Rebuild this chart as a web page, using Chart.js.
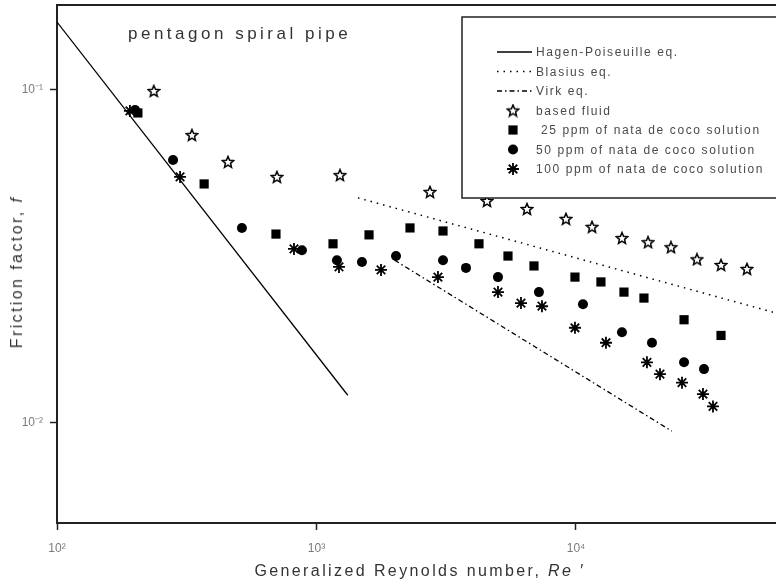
<!DOCTYPE html>
<html>
<head>
<meta charset='utf-8' />
<title>Friction factor - pentagon spiral pipe</title>
<script src="https://cdn.jsdelivr.net/npm/chart.js@4"></script>
<style>
body { margin:0; padding:0; background:#ffffff; }
#wrap {
  position: relative;
  width: 776px;
  height: 584px;
}
#chart { position: absolute; left: 0; top: 0; }
.lbl {
  position: absolute;
  font-family: 'Liberation Sans', Arial, sans-serif;
  color: #333333;
  white-space: nowrap;
}
#ptitle {
  left: 128px;
  top: 24px;
  font-size: 17px;
  letter-spacing: 3.5px;
}
#xtitle {
  left: 420px;
  top: 562px;
  font-size: 16px;
  letter-spacing: 2.4px;
  transform: translateX(-50%);
}
#ytitle {
  left: 17px;
  top: 272px;
  font-size: 16px;
  letter-spacing: 2.4px;
  transform: translate(-50%, -50%) rotate(-90deg);
}
</style>
</head>
<body>
<div id="wrap">
  <canvas id="chart" width="776" height="584"></canvas>
  <div id="ptitle" class="lbl">pentagon spiral pipe</div>
  <div id="xtitle" class="lbl">Generalized Reynolds number, <i>Re</i> ′</div>
  <div id="ytitle" class="lbl">Friction factor, <i>f</i></div>
</div>

<script>

/*************************************************/
/* data                   */
/*************************************************/

// correlation lines : end points
const reHP = [100, 1320];
const fHP = [0.16, 0.0121];
const reBlasius = [1445, 57400];
const fBlasius = [0.0474, 0.0215];
const reVirk = [2000, 23400];
const fVirk = [0.0308, 0.00944];

// based fluid
const reBase = [236, 331, 456, 704, 1232, 2738, 4540, 6474, 9150, 11530, 15040, 18950, 23230, 29260, 36220, 45600];
const fBase = [0.0993, 0.0732, 0.0608, 0.0548, 0.0555, 0.0494, 0.0464, 0.0439, 0.0410, 0.0388, 0.0359, 0.0349, 0.0337, 0.0310, 0.0298, 0.0290];

// 25 ppm
const re25 = [205, 369, 698, 1158, 1594, 2293, 3073, 4228, 5470, 6889, 9911, 12480, 15310, 18280, 26090, 36220];
const f25 = [0.0853, 0.0522, 0.0369, 0.0345, 0.0367, 0.0385, 0.0377, 0.0345, 0.0317, 0.0296, 0.0274, 0.0265, 0.0247, 0.0237, 0.0204, 0.0183];

// 50 ppm
const re50 = [200, 280, 516, 879, 1199, 1497, 2025, 3073, 3768, 5005, 7200, 10640, 15040, 19630, 26090, 31140];
const f50 = [0.0871, 0.0616, 0.0385, 0.0330, 0.0308, 0.0304, 0.0317, 0.0308, 0.0292, 0.0274, 0.0247, 0.0227, 0.0187, 0.0174, 0.0152, 0.0145];

// 100 ppm
const re100 = [191, 298, 819, 1221, 1773, 2938, 5005, 6139, 7396, 9911, 13050, 18770, 21070, 25620, 30860, 33730];
const f100 = [0.0865, 0.0548, 0.0333, 0.0294, 0.0288, 0.0274, 0.0247, 0.0229, 0.0224, 0.0193, 0.0174, 0.0152, 0.0140, 0.0132, 0.0122, 0.0112];

const legendLabels = [
  'Hagen-Poiseuille eq.',
  'Blasius eq.',
  'Virk eq.',
  'based fluid',
  ' 25 ppm of nata de coco solution',
  '50 ppm of nata de coco solution',
  '100 ppm of nata de coco solution'
];

// axis ticks
const xMajor = [100, 1000, 10000];
const xMinor = [200, 300, 400, 500, 600, 700, 800, 900,
                2000, 3000, 4000, 5000, 6000, 7000, 8000, 9000,
                20000, 30000, 40000, 50000];
const yMajor = [0.01, 0.1];
const yMinor = [0.006, 0.007, 0.008, 0.009,
                0.02, 0.03, 0.04, 0.05, 0.06, 0.07, 0.08, 0.09];
const xTickText = { 100: '10²', 1000: '10³', 10000: '10⁴' };
const yTickText = { 0.1: '10⁻¹', 0.01: '10⁻²' };

const xMin = 100, xMax = 59000;
const yMin = 0.005, yMax = 0.18;

/*************************************************/
/* styles                                        */
/*************************************************/

const FONT = "'Liberation Sans', Arial, sans-serif";
const INK = '#000000';
const AXIS = '#222222';

// open five point star used for the based fluid
const starImg = document.createElement('canvas');
starImg.width = 14;
starImg.height = 14;
(() => {
  const c = starImg.getContext('2d');
  c.beginPath();
  for (let k = 0; k < 10; k++) {
    const r = (k % 2 === 0) ? 6 : 2.7;
    const a = -Math.PI / 2 + k * Math.PI / 5;
    const px = 7 + r * Math.cos(a);
    const py = 7.5 + r * Math.sin(a);
    if (k === 0) c.moveTo(px, py); else c.lineTo(px, py);
  }
  c.closePath();
  c.lineWidth = 1.5;
  c.strokeStyle = INK;
  c.stroke();
})();

const toPts = (xs, ys) => xs.map((x, i) => ({ x: x, y: ys[i] }));

// fixed axis box sizes, no extra label padding
const fixHeight = h => s => { s.height = h; s.paddingLeft = 0; s.paddingRight = 0; };
const fixWidth = w => s => { s.width = w; s.paddingTop = 0; s.paddingBottom = 0; };

/*************************************************/
/* plugins                                       */
/*************************************************/

// top frame line
const frameTop = {
  id: 'frameTop',
  afterDraw(chart) {
    const a = chart.chartArea;
    const ctx = chart.ctx;
    ctx.save();
    ctx.strokeStyle = AXIS;
    ctx.lineWidth = 2;
    ctx.beginPath();
    ctx.moveTo(a.left - 1, a.top);
    ctx.lineTo(a.right + 2, a.top);
    ctx.stroke();
    ctx.restore();
  }
};

// boxed legend inside the plot
const legendBox = {
  id: 'legendBox',
  afterDraw(chart) {
    const a = chart.chartArea;
    const ctx = chart.ctx;
    const left = a.left + 405;
    const top = a.top + 12;
    const bottom = a.top + 193;
    const right = a.right + 10;
    ctx.save();
    ctx.fillStyle = '#ffffff';
    ctx.fillRect(left, top, right - left, bottom - top);
    ctx.strokeStyle = AXIS;
    ctx.lineWidth = 1.5;
    ctx.strokeRect(left, top, right - left, bottom - top);

    chart.data.datasets.forEach((ds, i) => {
      const y = top + 35 + i * 19.5;
      ctx.save();
      if (ds.showLine) {
        ctx.strokeStyle = ds.borderColor;
        ctx.lineWidth = ds.borderWidth;
        ctx.setLineDash(ds.borderDash || []);
        ctx.beginPath();
        ctx.moveTo(left + 35, y);
        ctx.lineTo(left + 70, y);
        ctx.stroke();
      } else {
        ctx.fillStyle = ds.backgroundColor;
        ctx.strokeStyle = ds.borderColor;
        ctx.lineWidth = ds.borderWidth;
        Chart.helpers.drawPoint(ctx, {
          pointStyle: ds.pointStyle,
          radius: ds.pointRadius,
          rotation: 0,
          borderWidth: ds.borderWidth
        }, left + 51, y);
      }
      ctx.restore();
      ctx.fillStyle = '#4a4a4a';
      ctx.font = '12px ' + FONT;
      ctx.letterSpacing = '1.6px';
      ctx.textAlign = 'left';
      ctx.textBaseline = 'middle';
      ctx.fillText(ds.label, left + 74, y + 1);
    });
    ctx.restore();
  }
};

/*************************************************/
/* chart                                         */
/*************************************************/

const tickFont = { family: FONT, size: 12 };

const chart = new Chart(document.getElementById('chart'), {
  type: 'scatter',
  data: {
    datasets: [
      {
        label: legendLabels[0],
        data: toPts(reHP, fHP),
        showLine: true,
        borderColor: INK,
        borderWidth: 1.3,
        pointRadius: 0
      },
      {
        label: legendLabels[1],
        data: toPts(reBlasius, fBlasius),
        showLine: true,
        borderColor: INK,
        borderWidth: 1.5,
        borderDash: [1.5, 5],
        pointRadius: 0
      },
      {
        label: legendLabels[2],
        data: toPts(reVirk, fVirk),
        showLine: true,
        borderColor: INK,
        borderWidth: 1.3,
        borderDash: [5, 3, 1.5, 3],
        pointRadius: 0
      },
      {
        label: legendLabels[3],
        data: toPts(reBase, fBase),
        pointStyle: starImg,
        pointRadius: 6,
        backgroundColor: INK,
        borderColor: INK,
        borderWidth: 1.5
      },
      {
        label: legendLabels[4],
        data: toPts(re25, f25),
        pointStyle: 'rect',
        pointRadius: 6.5,
        backgroundColor: INK,
        borderColor: INK,
        borderWidth: 0
      },
      {
        label: legendLabels[5],
        data: toPts(re50, f50),
        pointStyle: 'circle',
        pointRadius: 5,
        backgroundColor: INK,
        borderColor: INK,
        borderWidth: 0
      },
      {
        label: legendLabels[6],
        data: toPts(re100, f100),
        pointStyle: 'star',
        pointRadius: 6,
        backgroundColor: INK,
        borderColor: INK,
        borderWidth: 1.8
      }
    ]
  },
  options: {
    responsive: false,
    animation: false,
    devicePixelRatio: 1,
    layout: {
      autoPadding: false,
      padding: { top: 5, right: 0, bottom: 0, left: 0 }
    },
    plugins: {
      legend: { display: false },
      tooltip: { enabled: false }
    },
    scales: {
      x: {
        type: 'logarithmic',
        position: 'bottom',
        min: xMin,
        max: xMax,
        afterBuildTicks: s => { s.ticks = xMajor.map(v => ({ value: v })); },
        afterFit: fixHeight(61),
        ticks: {
          autoSkip: false,
          maxRotation: 0,
          padding: 11,
          color: '#7a7a7a',
          font: tickFont,
          callback: v => xTickText[v] || ''
        },
        grid: {
          drawOnChartArea: false,
          drawTicks: true,
          tickLength: 7,
          tickWidth: 1.5,
          tickColor: AXIS
        },
        border: { display: true, color: AXIS, width: 2 }
      },
      xm: {
        type: 'logarithmic',
        position: 'bottom',
        min: xMin,
        max: xMax,
        afterBuildTicks: s => { s.ticks = xMinor.map(v => ({ value: v })); },
        afterFit: fixHeight(0),
        ticks: { display: false },
        grid: {
          drawOnChartArea: false,
          drawTicks: true,
          tickLength: 4,
          tickWidth: 1.5,
          tickColor: AXIS
        },
        border: { display: false }
      },
      y: {
        type: 'logarithmic',
        position: 'left',
        min: yMin,
        max: yMax,
        afterBuildTicks: s => { s.ticks = yMajor.map(v => ({ value: v })); },
        afterFit: fixWidth(57),
        ticks: {
          autoSkip: false,
          padding: 7,
          color: '#7a7a7a',
          font: tickFont,
          callback: v => yTickText[v] || ''
        },
        grid: {
          drawOnChartArea: false,
          drawTicks: true,
          tickLength: 7,
          tickWidth: 1.5,
          tickColor: AXIS
        },
        border: { display: true, color: AXIS, width: 2 }
      },
      ym: {
        type: 'logarithmic',
        position: 'left',
        min: yMin,
        max: yMax,
        afterBuildTicks: s => { s.ticks = yMinor.map(v => ({ value: v })); },
        afterFit: fixWidth(0),
        ticks: { display: false },
        grid: {
          drawOnChartArea: false,
          drawTicks: true,
          tickLength: 4,
          tickWidth: 1.5,
          tickColor: AXIS
        },
        border: { display: false }
      }
    }
  },
  plugins: [frameTop, legendBox]
});

</script>

</body>
</html>
